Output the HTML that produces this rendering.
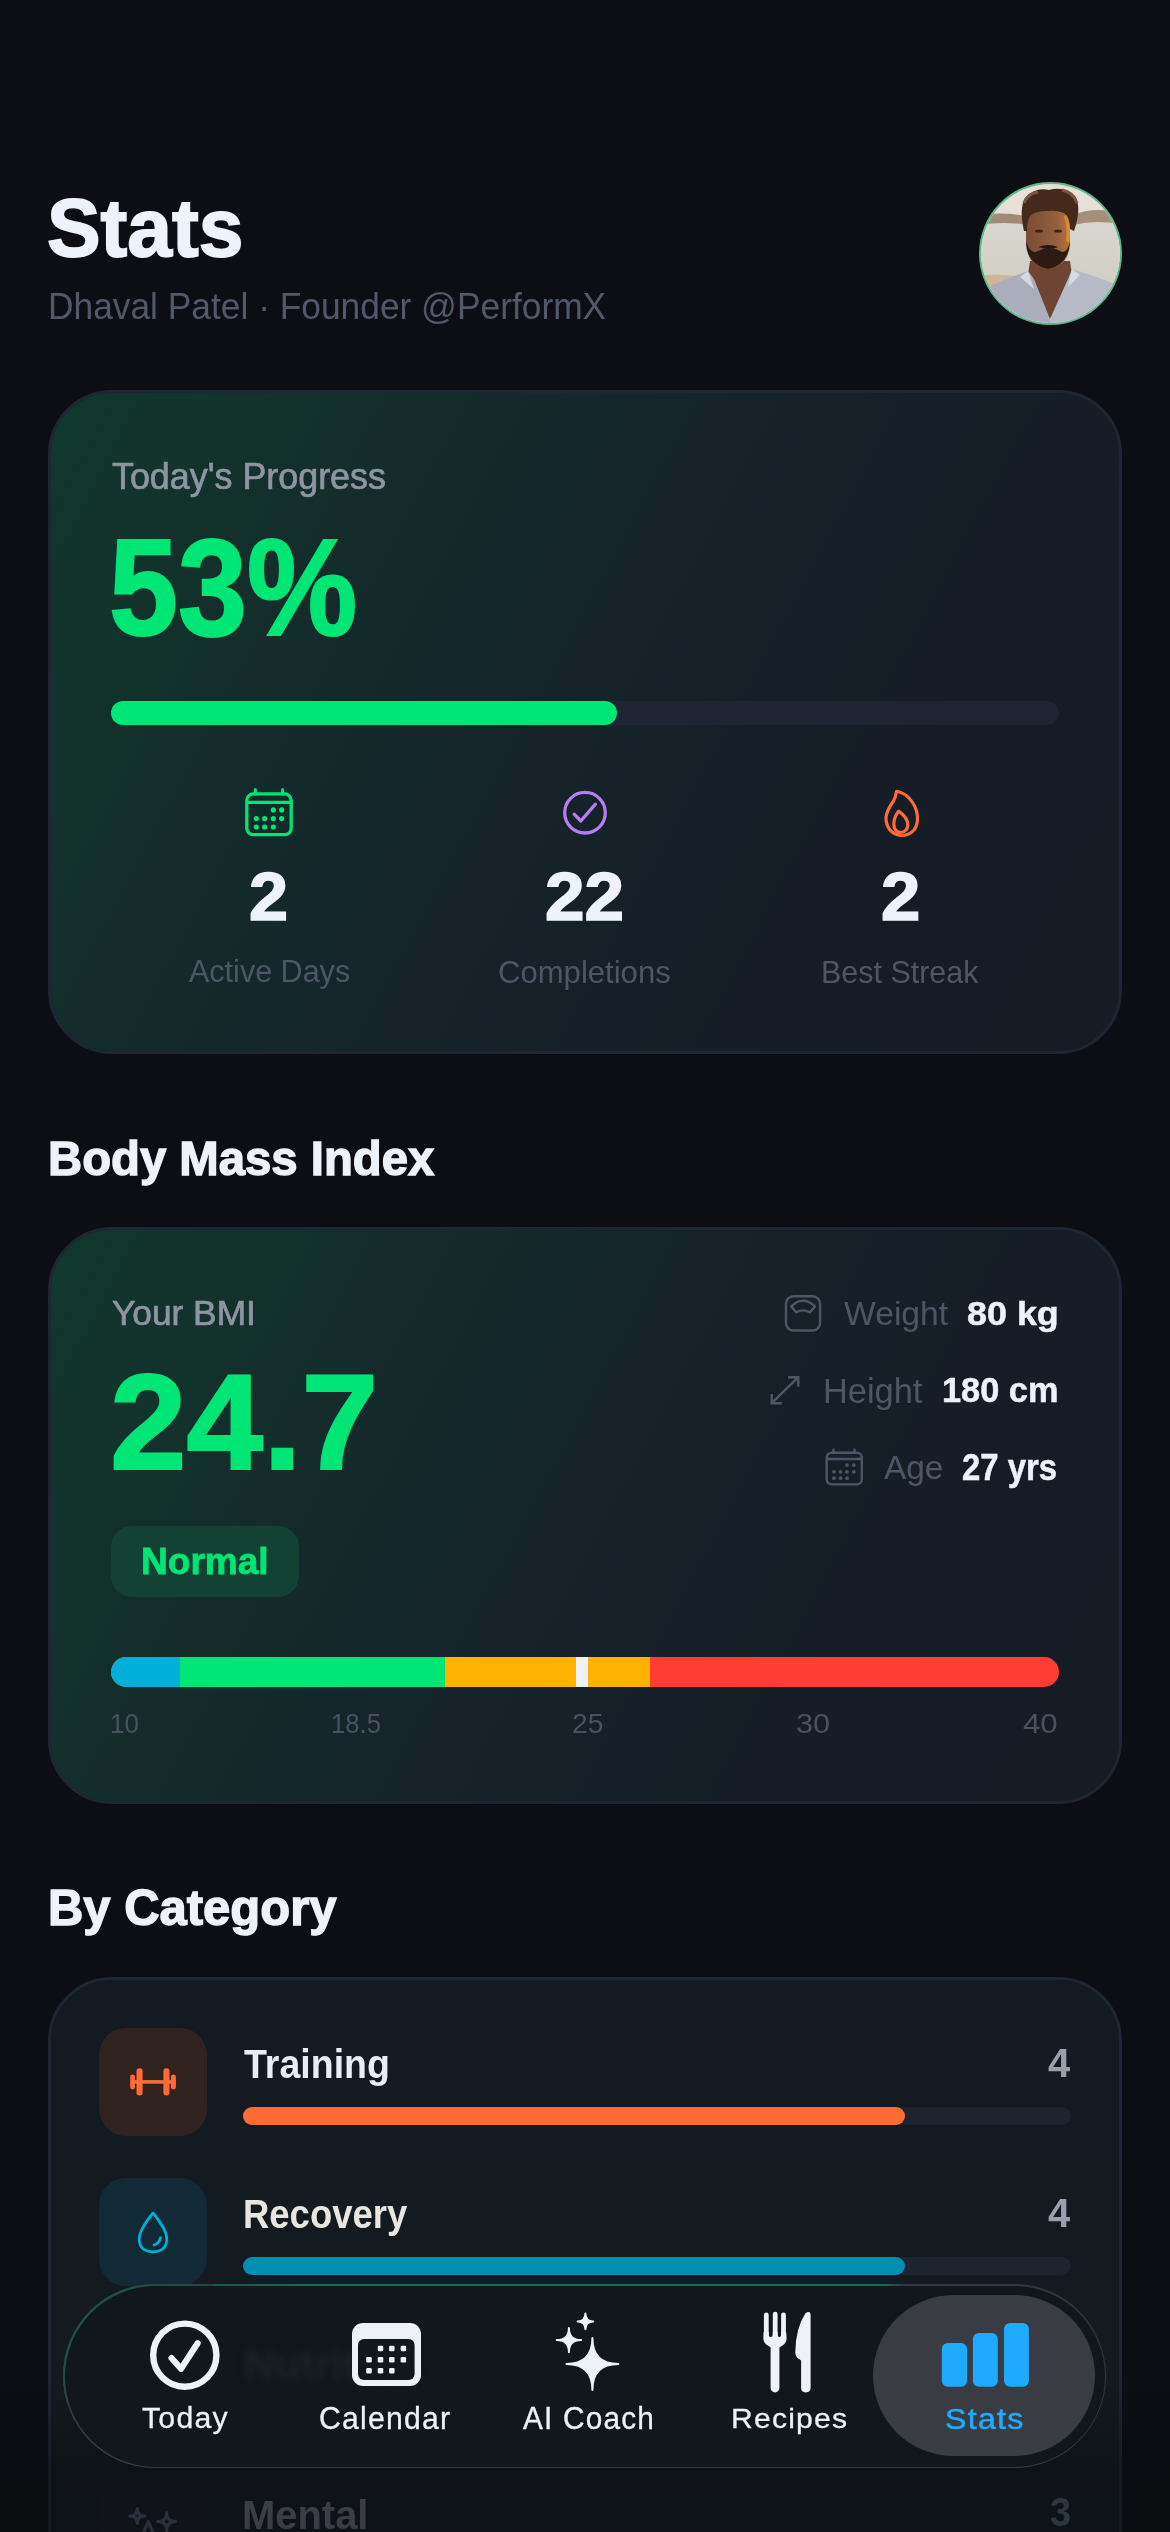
<!DOCTYPE html>
<html><head><meta charset="utf-8">
<style>
html,body{margin:0;padding:0;width:1170px;height:2532px;overflow:hidden;background:#0d0e14}
body{position:relative;font-family:"Liberation Sans",sans-serif}
.t{position:absolute;font-family:"Liberation Sans",sans-serif;line-height:1;white-space:pre;transform-origin:0 0}
.abs{position:absolute}
.card{position:absolute;left:48px;width:1068px;border:3px solid #1e2533;border-radius:64px;box-sizing:content-box}
.grad{background:linear-gradient(118deg,#10392d 0%,#13302b 18%,#15262a 40%,#161f27 62%,#161c25 80%,#161b24 100%)}
svg{position:absolute;overflow:visible}
</style></head><body>

<!-- header -->
<div class="t" id="t_stats" style="left:47.49px;top:187.20px;font-size:81.88px;font-weight:700;color:#eef2fb;transform:scaleX(0.9811);-webkit-text-stroke:1.8px #eef2fb;">Stats</div>
<div class="t" id="t_sub" style="left:48.17px;top:288.17px;font-size:37.68px;font-weight:400;color:#50586a;transform:scaleX(0.9378);">Dhaval Patel · Founder @PerformX</div>
<div class="abs" id="avatar" style="left:978px;top:181px;width:145px;height:145px">
<svg width="145" height="145" viewBox="0 0 145 145" style="left:0;top:0">
<defs><clipPath id="avc"><circle cx="72.5" cy="72.5" r="69.2"/></clipPath>
<linearGradient id="avsea" x1="0" y1="0" x2="0" y2="1"><stop offset="0" stop-color="#d9d6cf"/><stop offset="0.5" stop-color="#d3d0c8"/><stop offset="1" stop-color="#cbbfae"/></linearGradient>
<linearGradient id="avface" x1="0" y1="0" x2="1" y2="0"><stop offset="0" stop-color="#7a4c34"/><stop offset="0.7" stop-color="#94603f"/><stop offset="1" stop-color="#b9733a"/></linearGradient></defs>
<circle cx="72.5" cy="72.5" r="71.5" fill="#5db88b"/>
<circle cx="72.5" cy="72.5" r="69.5" fill="#c9d6cc"/>
<g clip-path="url(#avc)">
<rect width="145" height="145" fill="#e6e0d7"/>
<rect x="0" y="38" width="145" height="107" fill="url(#avsea)"/>
<path d="M0 34 Q30 30 50 36 L50 44 Q25 40 0 44 Z" fill="#a08b76"/>
<path d="M95 34 Q120 24 145 34 L145 44 Q120 38 95 44 Z" fill="#a58f78"/>
<path d="M0 95 Q20 92 45 96 L30 120 L0 125 Z" fill="#cdb597"/>
<path d="M52 80 L92 80 L95 100 L72 138 L49 100 Z" fill="#6e4533"/>
<path d="M-5 145 L-5 118 Q10 104 34 96 L50 90 L56 98 L72 138 L72 145 Z" fill="#a9adbc"/>
<path d="M150 145 L150 112 Q134 100 112 94 L94 88 L90 98 L72 138 L72 145 Z" fill="#b6b9c6"/>
<path d="M42 96 L50 90 L56 108 Z" fill="#d6d8e0"/>
<path d="M102 94 L94 88 L90 106 Z" fill="#d8dae2"/>
<path d="M48 42 Q48 25 70 25 Q92 25 92 42 L92 62 Q91 86 70 87 Q49 86 48 62 Z" fill="url(#avface)"/>
<path d="M48 60 Q49 84 70 88 Q91 84 92 60 Q89 74 82 70 Q72 64 60 70 Q52 74 48 60 Z" fill="#2c1a13"/>
<path d="M60 66 Q70 62 80 66 Q72 70 60 66 Z" fill="#2a1810"/>
<ellipse cx="61" cy="50" rx="4" ry="1.6" fill="#3a2216"/>
<ellipse cx="80" cy="50" rx="4" ry="1.6" fill="#3a2216"/>
<path d="M88 34 Q94 44 91 62 L88 60 Q90 46 86 36 Z" fill="#e0922e" opacity="0.85"/>
<path d="M46 50 Q41 28 47 17 Q57 6 71 9 Q87 5 97 15 Q104 27 96 50 L92 48 Q92 36 86 32 Q78 29 70 30 Q58 30 53 34 Q49 38 49 50 Z" fill="#45291b"/>
<path d="M46 22 Q50 12 60 11 M84 9 Q95 11 99 22" fill="none" stroke="#7d563f" stroke-width="3"/>
</g>
</svg>
</div>

<!-- progress card -->
<div class="card grad" id="pcard" style="top:390px;height:658px"></div>
<div class="t" id="t_tp" style="left:111.63px;top:458.55px;font-size:36.23px;font-weight:400;color:#8e95a2;transform:scaleX(0.9900);-webkit-text-stroke:0.7px #8e95a2;">Today's Progress</div>
<div class="t" id="t_53" style="left:109.38px;top:517.50px;font-size:138.12px;font-weight:700;color:#00e676;transform:scaleX(0.8978);-webkit-text-stroke:2.2px #00e676;">53%</div>
<div class="abs" style="left:111px;top:701px;width:948px;height:24px;border-radius:12px;background:#1f2433"></div>
<div class="abs" style="left:111px;top:701px;width:506px;height:24px;border-radius:12px;background:#00e676"></div>

<!-- stat icons -->
<svg id="ic_cal" style="left:245px;top:789px" width="48" height="48" viewBox="0 0 48 48">
<rect x="1.8" y="4.9" width="44.4" height="40.8" rx="6.5" fill="none" stroke="#00e676" stroke-width="3.3"/>
<line x1="1.8" y1="13.4" x2="46.2" y2="13.4" stroke="#00e676" stroke-width="3.2"/>
<line x1="10.4" y1="0.6" x2="10.4" y2="5" stroke="#00e676" stroke-width="3" stroke-linecap="round"/>
<line x1="37.6" y1="0.6" x2="37.6" y2="5" stroke="#00e676" stroke-width="3" stroke-linecap="round"/>
<g fill="#00e676"><circle cx="28.3" cy="20.9" r="2.6"/><circle cx="36.7" cy="20.9" r="2.6"/>
<circle cx="11.3" cy="29.6" r="2.6"/><circle cx="19.6" cy="29.6" r="2.6"/><circle cx="28.3" cy="29.6" r="2.6"/><circle cx="36.7" cy="29.6" r="2.6"/>
<circle cx="11.3" cy="38" r="2.6"/><circle cx="19.6" cy="38" r="2.6"/><circle cx="28.3" cy="38" r="2.6"/></g>
</svg>
<svg id="ic_chk" style="left:562px;top:790px" width="46" height="46" viewBox="0 0 46 46">
<circle cx="23" cy="22.7" r="20.3" fill="none" stroke="#b57ef3" stroke-width="3.3"/>
<path d="M12.2 24.2 L18.8 31 L33.4 14.2" fill="none" stroke="#b57ef3" stroke-width="3.3" stroke-linecap="round" stroke-linejoin="round"/>
</svg>
<svg id="ic_fire" style="left:882px;top:788px" width="38" height="50" viewBox="0 0 38 50">
<path d="M14.6 3.3 Q13.8 9 11.5 13 Q5 22 4 29 Q3.5 38 10 44 Q15 47.5 19.5 47.5 Q27 47.5 32 42 Q36 37 35.4 28 Q34.5 18 27 10 Q22 5 14.6 3.3 Z" fill="none" stroke="#ff6b35" stroke-width="3.2" stroke-linejoin="round"/>
<path d="M16.5 23.2 Q12 29 11.8 36 Q12 44 18.5 44.5 Q25.5 44 25.8 37 Q25.5 29 16.5 23.2 Z" fill="none" stroke="#ff6b35" stroke-width="3.2" stroke-linejoin="round"/>
</svg>
<div class="t" id="t_n1" style="left:248.69px;top:862.67px;font-size:67.68px;font-weight:700;color:#eef2fb;transform:scaleX(1.0373);-webkit-text-stroke:1.6px #eef2fb;">2</div>
<div class="t" id="t_n2" style="left:544.67px;top:861.96px;font-size:68.99px;font-weight:700;color:#eef2fb;transform:scaleX(1.0300);-webkit-text-stroke:1.6px #eef2fb;">22</div>
<div class="t" id="t_n3" style="left:880.98px;top:862.38px;font-size:68.26px;font-weight:700;color:#eef2fb;transform:scaleX(1.0344);-webkit-text-stroke:1.6px #eef2fb;">2</div>
<div class="t" id="t_l1" style="left:188.50px;top:955.97px;font-size:31.45px;font-weight:400;color:#4e5666;transform:scaleX(0.9709);">Active Days</div>
<div class="t" id="t_l2" style="left:497.85px;top:956.61px;font-size:30.58px;font-weight:400;color:#4e5666;transform:scaleX(1.0163);">Completions</div>
<div class="t" id="t_l3" style="left:821.36px;top:956.61px;font-size:30.58px;font-weight:400;color:#4e5666;transform:scaleX(0.9965);">Best Streak</div>

<!-- BMI -->
<div class="t" id="t_bmi_h" style="left:48.19px;top:1134.36px;font-size:48.99px;font-weight:700;color:#eef2fb;transform:scaleX(0.9654);-webkit-text-stroke:1.4px #eef2fb;">Body Mass Index</div>
<div class="card grad" id="bcard" style="top:1227px;height:571px"></div>
<div class="t" id="t_ybmi" style="left:112.44px;top:1296.17px;font-size:35.51px;font-weight:400;color:#8e95a2;transform:scaleX(0.9942);-webkit-text-stroke:0.7px #8e95a2;">Your BMI</div>
<div class="t" id="t_247" style="left:110.27px;top:1355.35px;font-size:135.94px;font-weight:700;color:#00e676;transform:scaleX(1.0129);-webkit-text-stroke:2.2px #00e676;">24.7</div>
<div class="abs" style="left:111px;top:1526px;width:188px;height:71px;border-radius:21px;background:#134234"></div>
<div class="t" id="t_normal" style="left:140.71px;top:1542.96px;font-size:37.10px;font-weight:700;color:#00e676;transform:scaleX(0.9991);-webkit-text-stroke:0.8px #00e676;">Normal</div>
<svg id="ic_scale" style="left:784px;top:1294px" width="38" height="39" viewBox="0 0 38 39">
<rect x="2" y="2.2" width="34.1" height="34.3" rx="7.5" fill="none" stroke="#4e5666" stroke-width="2.4"/>
<path d="M7.2 12.4 Q18.7 1.2 31 12.4 L26 18.2 Q19 14.6 12.2 18.2 Z" fill="none" stroke="#4e5666" stroke-width="2.4" stroke-linejoin="round"/>
</svg>
<svg id="ic_arrow" style="left:768px;top:1374px" width="34" height="32" viewBox="0 0 34 32">
<path d="M3.7 29.2 L30.3 3.2 M20 3.2 L30.3 3.2 L30.3 12.7 M3.7 19.9 L3.7 29.2 L13.8 29.2" fill="none" stroke="#4e5666" stroke-width="2.4"/>
</svg>
<svg id="ic_cal2" style="left:825px;top:1449px" width="38" height="38" viewBox="0 0 38 38">
<rect x="1.7" y="3.7" width="35.1" height="31.7" rx="5" fill="none" stroke="#4e5666" stroke-width="2.4"/>
<line x1="1.7" y1="10" x2="36.8" y2="10" stroke="#4e5666" stroke-width="2.3"/>
<line x1="8.5" y1="0.8" x2="8.5" y2="4" stroke="#4e5666" stroke-width="2.4" stroke-linecap="round"/>
<line x1="29.5" y1="0.8" x2="29.5" y2="4" stroke="#4e5666" stroke-width="2.4" stroke-linecap="round"/>
<g fill="#4e5666"><circle cx="22" cy="16.1" r="1.9"/><circle cx="28.8" cy="16.1" r="1.9"/>
<circle cx="9" cy="22.8" r="1.9"/><circle cx="15.6" cy="22.8" r="1.9"/><circle cx="22" cy="22.8" r="1.9"/><circle cx="28.8" cy="22.8" r="1.9"/>
<circle cx="9" cy="29.2" r="1.9"/><circle cx="15.6" cy="29.2" r="1.9"/><circle cx="22" cy="29.2" r="1.9"/></g>
</svg>
<div class="t" id="t_wl" style="left:843.96px;top:1297.14px;font-size:33.48px;font-weight:400;color:#4e5666;transform:scaleX(1.0057);">Weight</div>
<div class="t" id="t_wv" style="left:967.17px;top:1297.51px;font-size:32.75px;font-weight:700;color:#eef2fb;transform:scaleX(1.0959);-webkit-text-stroke:0.5px #eef2fb;">80 kg</div>
<div class="t" id="t_hl" style="left:822.95px;top:1373.88px;font-size:34.49px;font-weight:400;color:#4e5666;transform:scaleX(0.9971);">Height</div>
<div class="t" id="t_hv" style="left:942.19px;top:1372.57px;font-size:35.51px;font-weight:700;color:#eef2fb;transform:scaleX(0.9672);-webkit-text-stroke:0.5px #eef2fb;">180 cm</div>
<div class="t" id="t_al" style="left:884.20px;top:1452.01px;font-size:32.46px;font-weight:400;color:#4e5666;transform:scaleX(1.0292);">Age</div>
<div class="t" id="t_av" style="left:961.96px;top:1449.88px;font-size:36.09px;font-weight:700;color:#eef2fb;transform:scaleX(0.9119);-webkit-text-stroke:0.5px #eef2fb;">27 yrs</div>
<div class="abs" style="left:111px;top:1657px;width:948px;height:30px;border-radius:15px;overflow:hidden;background:#ff3d33">
<div class="abs" style="left:0;top:0;width:69px;height:30px;background:#00b0d8"></div>
<div class="abs" style="left:69px;top:0;width:265px;height:30px;background:#00e676"></div>
<div class="abs" style="left:334px;top:0;width:205px;height:30px;background:#ffb300"></div>
<div class="abs" style="left:465px;top:0;width:12px;height:30px;background:#eef2fb"></div>
</div>
<div class="t" id="t_s10" style="left:110.22px;top:1709.95px;font-size:27.83px;font-weight:400;color:#4a5162;transform:scaleX(0.9329);">10</div>
<div class="t" id="t_s18" style="left:330.75px;top:1709.95px;font-size:27.83px;font-weight:400;color:#4a5162;transform:scaleX(0.9221);">18.5</div>
<div class="t" id="t_s25" style="left:572.39px;top:1709.95px;font-size:27.83px;font-weight:400;color:#4a5162;transform:scaleX(1.0147);">25</div>
<div class="t" id="t_s30" style="left:795.68px;top:1709.95px;font-size:27.83px;font-weight:400;color:#4a5162;transform:scaleX(1.0991);">30</div>
<div class="t" id="t_s40" style="left:1023.38px;top:1709.95px;font-size:27.83px;font-weight:400;color:#4a5162;transform:scaleX(1.1226);">40</div>

<!-- category -->
<div class="t" id="t_cat_h" style="left:48.17px;top:1884.07px;font-size:49.57px;font-weight:700;color:#eef2fb;transform:scaleX(0.9879);-webkit-text-stroke:1.4px #eef2fb;">By Category</div>
<div class="card" id="ccard" style="top:1977px;height:700px;background:linear-gradient(180deg,#141a21 0%,#131a1f 100%)"></div>
<div class="abs" style="left:99px;top:2028px;width:108px;height:108px;border-radius:27px;background:#30221f"></div>
<svg id="ic_dumb" style="left:128px;top:2066px" width="50" height="32" viewBox="0 0 50 32">
<g fill="#ff6b35"><rect x="2.2" y="8.4" width="4.8" height="15" rx="2.4"/><rect x="8.5" y="2.2" width="6.1" height="27.2" rx="3"/>
<rect x="35.4" y="2.2" width="6.1" height="27.2" rx="3"/><rect x="42.9" y="8.4" width="5" height="15" rx="2.4"/>
<rect x="6" y="14.1" width="38" height="3.6"/></g>
</svg>
<div class="t" id="t_train" style="left:244.22px;top:2044.46px;font-size:40.87px;font-weight:700;color:#e9edf5;transform:scaleX(0.9184);">Training</div>
<div class="t" id="t_tr4" style="left:1048.10px;top:2043.30px;font-size:40.00px;font-weight:700;color:#9aa0ab;transform:scaleX(0.9954);">4</div>
<div class="abs" style="left:243px;top:2107px;width:828px;height:18px;border-radius:9px;background:#1e2330"></div>
<div class="abs" style="left:243px;top:2107px;width:662px;height:18px;border-radius:9px;background:#ff6b35"></div>
<div class="abs" style="left:99px;top:2178px;width:108px;height:108px;border-radius:27px;background:#112a35"></div>
<svg id="ic_drop" style="left:136px;top:2210px" width="34" height="45" viewBox="0 0 34 45">
<path d="M17 3 Q11 10 6 19 Q3 25 3.2 30 Q4 41.5 17 41.8 Q30 41.5 30.8 30 Q31 25 28 19 Q23 10 17 3 Z" fill="none" stroke="#00b0d8" stroke-width="2.7" stroke-linejoin="round"/>
<path d="M24.5 27.5 Q23.5 33 18 35" fill="none" stroke="#00b0d8" stroke-width="2.7" stroke-linecap="round"/>
</svg>
<div class="t" id="t_recov" style="left:242.85px;top:2194.95px;font-size:40.29px;font-weight:700;color:#e9e6e0;transform:scaleX(0.9054);">Recovery</div>
<div class="t" id="t_rc4" style="left:1048.10px;top:2193.40px;font-size:40.00px;font-weight:700;color:#9aa0ab;transform:scaleX(0.9954);">4</div>
<div class="abs" style="left:243px;top:2257px;width:828px;height:18px;border-radius:9px;background:#1e2330"></div>
<div class="abs" style="left:243px;top:2257px;width:662px;height:18px;border-radius:9px;background:#008fb0"></div>
<div class="abs" style="left:99px;top:2478px;width:108px;height:108px;border-radius:27px;background:#151a24"></div>
<div class="t" id="t_mental" style="left:242.20px;top:2494.51px;font-size:40.58px;font-weight:700;color:#5e6370;transform:scaleX(0.9841);">Mental</div>
<div class="t" id="t_mt3" style="left:1050.24px;top:2493.12px;font-size:39.86px;font-weight:700;color:#485666;transform:scaleX(0.9535);">3</div>

<svg id="ic_mental" style="left:120px;top:2500px" width="70" height="40" viewBox="0 0 70 40">
<g fill="none" stroke="#434b5e" stroke-width="3" stroke-linejoin="round" stroke-linecap="round">
<path d="M17.2 8.5 Q17.2 16 24.7 16 Q17.2 16 17.2 23.5 Q17.2 16 9.7 16 Q17.2 16 17.2 8.5 Z"/>
<path d="M46.7 12.600000000000001 Q46.7 21.6 55.7 21.6 Q46.7 21.6 46.7 30.6 Q46.7 21.6 37.7 21.6 Q46.7 21.6 46.7 12.600000000000001 Z"/>
<path d="M22 36 L28.3 21.5 L34.5 36"/>
</g></svg>
<div class="abs" style="left:99px;top:2328px;width:108px;height:108px;border-radius:27px;background:#15302a"></div>
<div class="t" style="left:243px;top:2337px;font-size:40px;font-weight:700;color:#e9edf5">Nutrition</div>
<div class="abs" style="left:243px;top:2407px;width:828px;height:18px;border-radius:9px;background:#00e676"></div>
<div class="abs" id="overlay" style="left:0;top:2380px;width:1170px;height:152px;background:linear-gradient(180deg,rgba(7,8,10,0) 0px,rgba(7,8,10,0.40) 88px,rgba(7,8,10,0.42) 152px)"></div>
<!-- tab bar -->
<div class="abs" id="tabbar" style="left:63px;top:2284px;width:1043px;height:184px;border-radius:92px;background:linear-gradient(180deg,#2e3a3c 0%,#30353d 40%,#393d45 100%);overflow:hidden">
<div class="abs" style="left:0;top:0;width:180px;height:120px;background:linear-gradient(135deg,#1f5a4a 0%,#24493f 40%,rgba(46,58,60,0) 100%)"></div>
<div class="abs" style="left:150px;top:0;width:692px;height:4px;background:linear-gradient(90deg,rgba(12,110,96,0.4) 0%,#0c6e60 12%,#0c6e60 97%,rgba(12,110,96,0) 100%)"></div>
<div class="abs" style="left:1.5px;top:1.5px;width:1040px;height:181px;border-radius:90.5px;background:#12171b;overflow:hidden">
<div class="t" style="left:180px;top:58px;font-size:42px;font-weight:700;color:#1d2328;filter:blur(3.5px)">Nutrition</div>
</div></div>
<div class="abs" style="left:873px;top:2295px;width:222px;height:161px;border-radius:81px;background:#393c43"></div>
<svg id="tab_today" style="left:145px;top:2315px" width="80" height="80" viewBox="0 0 80 80">
<circle cx="39.8" cy="40.2" r="31.6" fill="none" stroke="#eef1f7" stroke-width="6.4"/>
<path d="M26.5 43 L36 53.8 L52.6 28.2" fill="none" stroke="#eef1f7" stroke-width="6.2" stroke-linecap="round" stroke-linejoin="round"/>
</svg>
<svg id="tab_cal" style="left:350px;top:2320px" width="74" height="70" viewBox="0 0 74 70">
<rect x="2" y="3" width="69" height="63" rx="11" fill="#eef1f7"/>
<rect x="8" y="19" width="56.6" height="41" rx="6" fill="#12171c"/>
<g fill="#eef1f7"><rect x="27.75" y="25.75" width="5.5" height="5.5" rx="1.2"/><rect x="39.05" y="25.75" width="5.5" height="5.5" rx="1.2"/><rect x="50.65" y="25.75" width="5.5" height="5.5" rx="1.2"/>
<rect x="16.25" y="36.95" width="5.5" height="5.5" rx="1.2"/><rect x="27.75" y="36.95" width="5.5" height="5.5" rx="1.2"/><rect x="39.05" y="36.95" width="5.5" height="5.5" rx="1.2"/><rect x="50.65" y="36.95" width="5.5" height="5.5" rx="1.2"/>
<rect x="16.25" y="48.05" width="5.5" height="5.5" rx="1.2"/><rect x="27.75" y="48.05" width="5.5" height="5.5" rx="1.2"/><rect x="39.05" y="48.05" width="5.5" height="5.5" rx="1.2"/></g>
</svg>
<svg id="tab_ai" style="left:550px;top:2305px" width="80" height="95" viewBox="550 2305 80 95">
<g fill="#eef1f7" stroke="#eef1f7" stroke-width="2" stroke-linejoin="round">
<path d="M592.4 2338 Q592.4 2364 618.4 2364 Q592.4 2364 592.4 2390 Q592.4 2364 566.4 2364 Q592.4 2364 592.4 2338 Z"/>
<path d="M568.9 2327.9 Q568.9 2340.1 581.1 2340.1 Q568.9 2340.1 568.9 2352.2999999999997 Q568.9 2340.1 556.6999999999999 2340.1 Q568.9 2340.1 568.9 2327.9 Z"/>
<path d="M585.4 2313.6 Q585.4 2321.4 593.1999999999999 2321.4 Q585.4 2321.4 585.4 2329.2000000000003 Q585.4 2321.4 577.6 2321.4 Q585.4 2321.4 585.4 2313.6 Z"/>
</g></svg>
<svg id="tab_rec" style="left:760px;top:2308px" width="54" height="88" viewBox="0 0 54 88">
<g fill="#eef1f7">
<rect x="3.9" y="4.5" width="4.8" height="30" rx="2.4"/>
<rect x="12.8" y="3.8" width="4.8" height="30" rx="2.4"/>
<rect x="21.1" y="4.5" width="4.8" height="30" rx="2.4"/>
<path d="M3.6 24 L8.7 24 L8.7 26.7 Q8.7 28.9 10.75 28.9 Q12.8 28.9 12.8 26.7 L12.8 24 L17.6 24 L17.6 26.7 Q17.6 28.9 19.35 28.9 Q21.1 28.9 21.1 26.7 L21.1 24 L26.1 24 L26.6 30.5 Q26.4 35 22.4 37.5 L19.4 39.5 L10.8 39.5 L7.8 37.5 Q3.6 35 3.4 30.5 Z"/>
<rect x="10.6" y="33" width="8.8" height="51.4" rx="4.4"/>
<path d="M45.5 5.2 Q47.6 3.6 49.3 4.1 Q50.6 4.7 50.6 7 L50.6 80 Q50.6 84.4 45.9 84.4 Q41.1 84.4 41.1 80 L41.1 52.6 L37 49.4 Q35.3 48 35.3 44.5 Q35.5 20 45.5 5.2 Z"/>
</g></svg>
<svg id="tab_stats" style="left:940px;top:2320px" width="92" height="70" viewBox="0 0 92 70">
<g fill="#1eaaff"><rect x="1.8" y="22.9" width="25.3" height="43.8" rx="6"/><rect x="32.9" y="12.9" width="24.9" height="53.8" rx="6"/><rect x="64" y="2.9" width="24.9" height="63.8" rx="6"/></g>
</svg>
<div class="t" id="t_tab1" style="left:142.24px;top:2403.13px;font-size:30.14px;font-weight:400;color:#eef1f7;transform:scaleX(1.0047);-webkit-text-stroke:0.3px #eef1f7;letter-spacing:1.21px;">Today</div>
<div class="t" id="t_tab2" style="left:319.44px;top:2402.98px;font-size:30.43px;font-weight:400;color:#eef1f7;transform:scaleX(0.9919);-webkit-text-stroke:0.3px #eef1f7;letter-spacing:1.22px;">Calendar</div>
<div class="t" id="t_tab3" style="left:523.15px;top:2402.98px;font-size:30.43px;font-weight:400;color:#eef1f7;transform:scaleX(0.9789);-webkit-text-stroke:0.3px #eef1f7;letter-spacing:1.22px;">AI Coach</div>
<div class="t" id="t_tab4" style="left:730.74px;top:2404.31px;font-size:28.41px;font-weight:400;color:#eef1f7;transform:scaleX(1.0608);-webkit-text-stroke:0.3px #eef1f7;letter-spacing:1.14px;">Recipes</div>
<div class="t" id="t_tab5" style="left:944.84px;top:2403.77px;font-size:29.28px;font-weight:400;color:#22aaff;transform:scaleX(1.0974);-webkit-text-stroke:0.5px #22aaff;letter-spacing:1.17px;">Stats</div>

</body></html>
